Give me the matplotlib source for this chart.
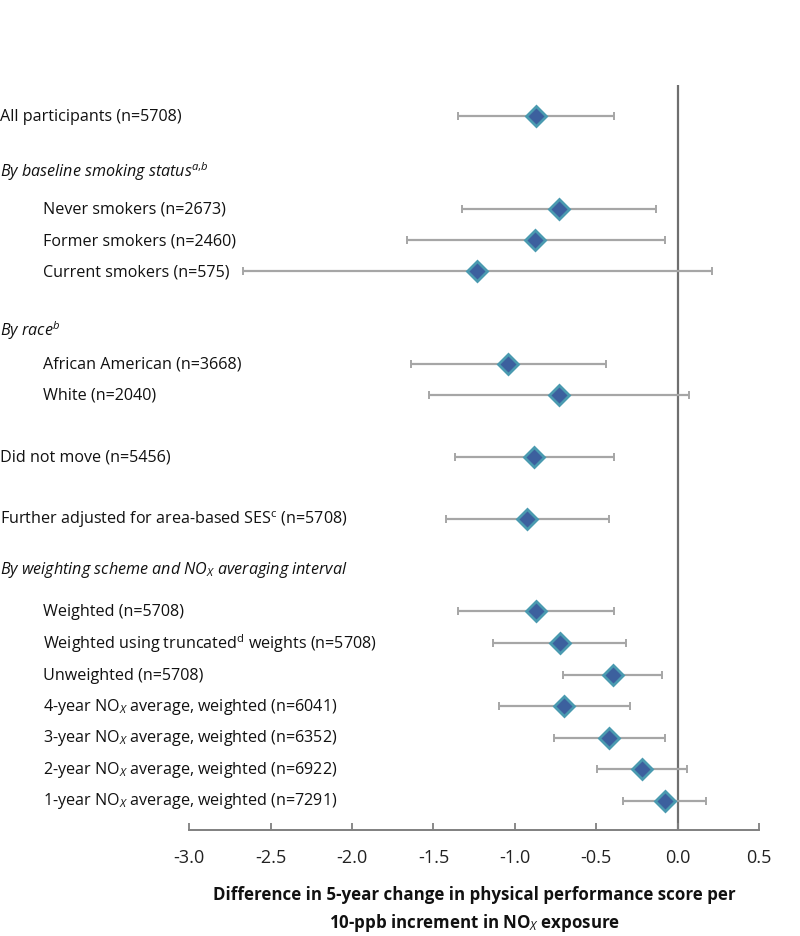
import matplotlib
matplotlib.use("Agg")
import matplotlib.pyplot as plt
import matplotlib.transforms as mtransforms

FONT = "Open Sans"
plt.rcParams['font.family'] = [FONT, 'DejaVu Sans']
plt.rcParams['mathtext.fontset'] = 'custom'
plt.rcParams['mathtext.rm'] = FONT
plt.rcParams['mathtext.it'] = FONT + ':italic'
plt.rcParams['mathtext.bf'] = FONT + ':bold'

# ---- data ----
labels = [
    "All participants (n=5708)",
    "Never smokers (n=2673)",
    "Former smokers (n=2460)",
    "Current smokers (n=575)",
    "African American (n=3668)",
    "White (n=2040)",
    "Did not move (n=5456)",
    r"Further adjusted for area-based SES$^{\mathrm{c}}$ (n=5708)",
    "Weighted (n=5708)",
    r"Weighted using truncated$^{\mathrm{d}}$ weights (n=5708)",
    "Unweighted (n=5708)",
    r"4-year NO$_{\mathit{X}}$ average, weighted (n=6041)",
    r"3-year NO$_{\mathit{X}}$ average, weighted (n=6352)",
    r"2-year NO$_{\mathit{X}}$ average, weighted (n=6922)",
    r"1-year NO$_{\mathit{X}}$ average, weighted (n=7291)",
]
estimates = [-0.87, -0.73, -0.875, -1.23, -1.04, -0.73, -0.885, -0.925,
             -0.87, -0.725, -0.40, -0.70, -0.42, -0.22, -0.08]
ci_low = [-1.35, -1.325, -1.665, -2.67, -1.635, -1.53, -1.37, -1.42,
          -1.35, -1.135, -0.705, -1.10, -0.76, -0.495, -0.335]
ci_high = [-0.39, -0.13, -0.08, 0.21, -0.44, 0.07, -0.39, -0.42,
           -0.39, -0.315, -0.095, -0.295, -0.075, 0.055, 0.175]
indented = [False, True, True, True, True, True, False, False,
            True, True, True, True, True, True, True]
headers = [
    r"By baseline smoking status$^{\mathit{a}{,}\mathit{b}}$",
    r"By race$^{\mathit{b}}$",
    r"By weighting scheme and NO$_{\mathit{X}}$ averaging interval",
]
xticks = [-3.0, -2.5, -2.0, -1.5, -1.0, -0.5, 0.0, 0.5]
xlabel = "Difference in 5-year change in physical performance score per\n" \
         r"10-ppb increment in NO$_{\mathbf{\mathit{X}}}$ exposure"

# ---- layout (pixel rows) ----
row_y = [117, 209.5, 241, 272, 364.5, 396, 458, 519.5,
         612, 643.5, 675.5, 707, 738.5, 770, 801.5]
header_y = [172, 331, 570]

W, H = 800, 937
fig = plt.figure(figsize=(W / 100, H / 100), dpi=100)
ax_left, ax_right, ax_top, ax_bot = 189.3, 759.0, 86, 831
ax = fig.add_axes([ax_left / W, 1 - ax_bot / H, (ax_right - ax_left) / W, (ax_bot - ax_top) / H])
ax.set_xlim(-3.0, 0.5)
ax.set_ylim(ax_bot, ax_top)

ax.axvline(0, color="#6f6f6f", lw=1.6, zorder=1)

for e, lo, hi, y in zip(estimates, ci_low, ci_high, row_y):
    ax.errorbar([e], [y], xerr=[[e - lo], [hi - e]], fmt="none",
                ecolor="#a6a6a6", elinewidth=1.6, capsize=3.2, capthick=1.4, zorder=2)
    ax.plot([e], [y], marker="D", markersize=10.5, markerfacecolor="#3c609e",
            markeredgecolor="#4a9ab0", markeredgewidth=2.0, zorder=3, linestyle="none")

for s in ["top", "right", "left"]:
    ax.spines[s].set_visible(False)
ax.spines["bottom"].set_color("#808080")
ax.spines["bottom"].set_linewidth(1.4)
ax.set_yticks([])
ax.set_xticks(xticks)
ax.set_xticklabels([f"{t:.1f}" for t in xticks], fontsize=13, color="#222222")
ax.tick_params(axis="x", direction="in", length=5, width=1.3, color="#808080", pad=13)

trans = mtransforms.blended_transform_factory(fig.transFigure, ax.transData)
for lab, y, ind in zip(labels, row_y, indented):
    ax.text((43 if ind else 0) / W, y, lab, transform=trans, ha="left", va="center",
            fontsize=11.6, color="#111111")
for lab, y in zip(headers, header_y):
    ax.text(0, y, lab, transform=trans, ha="left", va="center",
            fontsize=11.6, style="italic", color="#111111")

fig.text((ax_left + ax_right) / 2 / W, 1 - 910 / H, xlabel, ha="center", va="center",
         fontsize=12.2, fontweight="bold", linespacing=1.45, color="#111111")

fig.savefig("out.png", dpi=100)
